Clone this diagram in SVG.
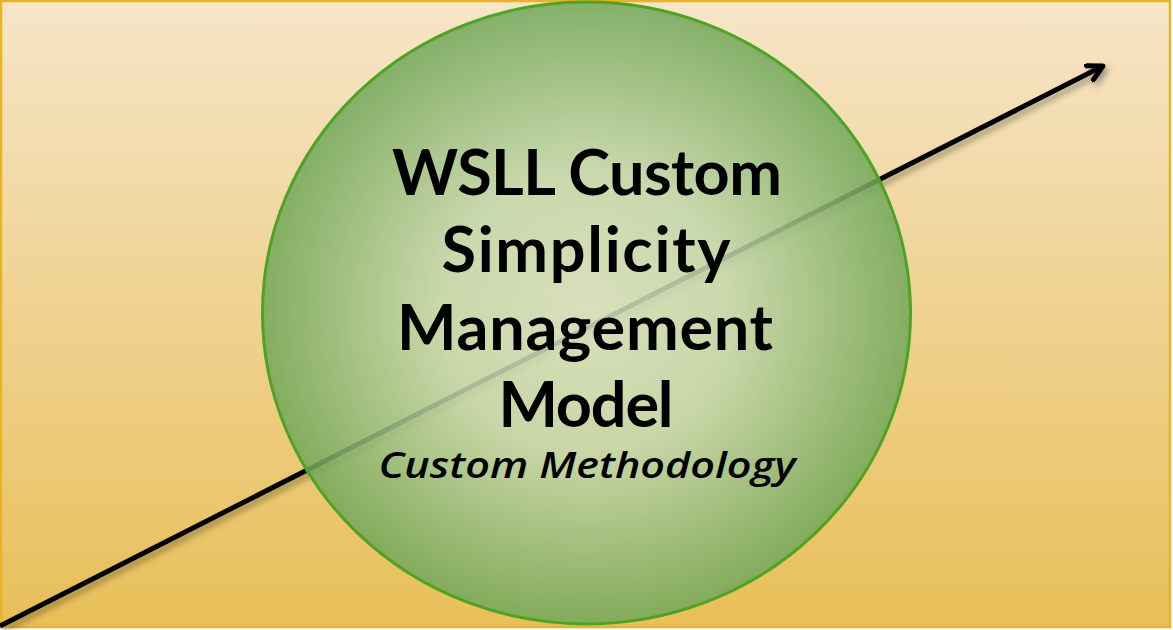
<svg xmlns="http://www.w3.org/2000/svg" width="1173" height="630" viewBox="0 0 1173 630">
  <defs>
    <linearGradient id="bg" x1="0" y1="0" x2="0" y2="1">
      <stop offset="0" stop-color="#F6E5C8"/>
      <stop offset="1" stop-color="#E8BF58"/>
    </linearGradient>
    <radialGradient id="ball" cx="0.5" cy="0.5" r="0.5">
      <stop offset="0" stop-color="#D4E2C2"/>
      <stop offset="0.45" stop-color="#C3D8AE"/>
      <stop offset="1" stop-color="#72A85A"/>
    </radialGradient>
    <filter id="shadow" x="-0.1" y="-0.1" width="1.2" height="1.3">
      <feDropShadow dx="3" dy="4" stdDeviation="3" flood-color="#000" flood-opacity="0.35"/>
    </filter>
    <marker id="head" viewBox="0 0 20 20" refX="17" refY="10" markerWidth="20" markerHeight="20" markerUnits="userSpaceOnUse" orient="auto">
      <polyline points="2,2 17,10 2,18" fill="none" stroke="#000" stroke-width="5" stroke-linecap="round" stroke-linejoin="round"/>
    </marker>
    <style>
      .title { font-family: Lato, "Liberation Sans", sans-serif; font-weight: bold; font-size: 63px; fill: #000; text-anchor: middle; }
      .sub { font-family: "Open Sans", "DejaVu Sans", sans-serif; font-weight: 600; font-style: italic; font-size: 36px; fill: #000; text-anchor: middle; }
    </style>
  </defs>
  <rect x="1" y="1" width="1169" height="626" fill="url(#bg)" stroke="#E6B426" stroke-width="2.5"/>
  <g id="connectors">
    <line x1="0" y1="626" x2="1103" y2="66" stroke="#000" stroke-width="5" filter="url(#shadow)" marker-end="url(#head)"/>
  </g>
  <g id="node-model">
    <ellipse cx="586.5" cy="313" rx="324" ry="311" fill="url(#ball)" fill-opacity="0.86" stroke="#4EA325" stroke-width="3"/>
    <text class="title" x="587" y="195" textLength="390" lengthAdjust="spacing">WSLL Custom</text>
    <text class="title" x="586" y="272" textLength="289" lengthAdjust="spacing">Simplicity</text>
    <text class="title" x="585" y="350" textLength="376" lengthAdjust="spacing">Management</text>
    <text class="title" x="586" y="427" textLength="175" lengthAdjust="spacing">Model</text>
    <text class="sub" x="587" y="478" textLength="417" lengthAdjust="spacingAndGlyphs">Custom Methodology</text>
  </g>
</svg>
